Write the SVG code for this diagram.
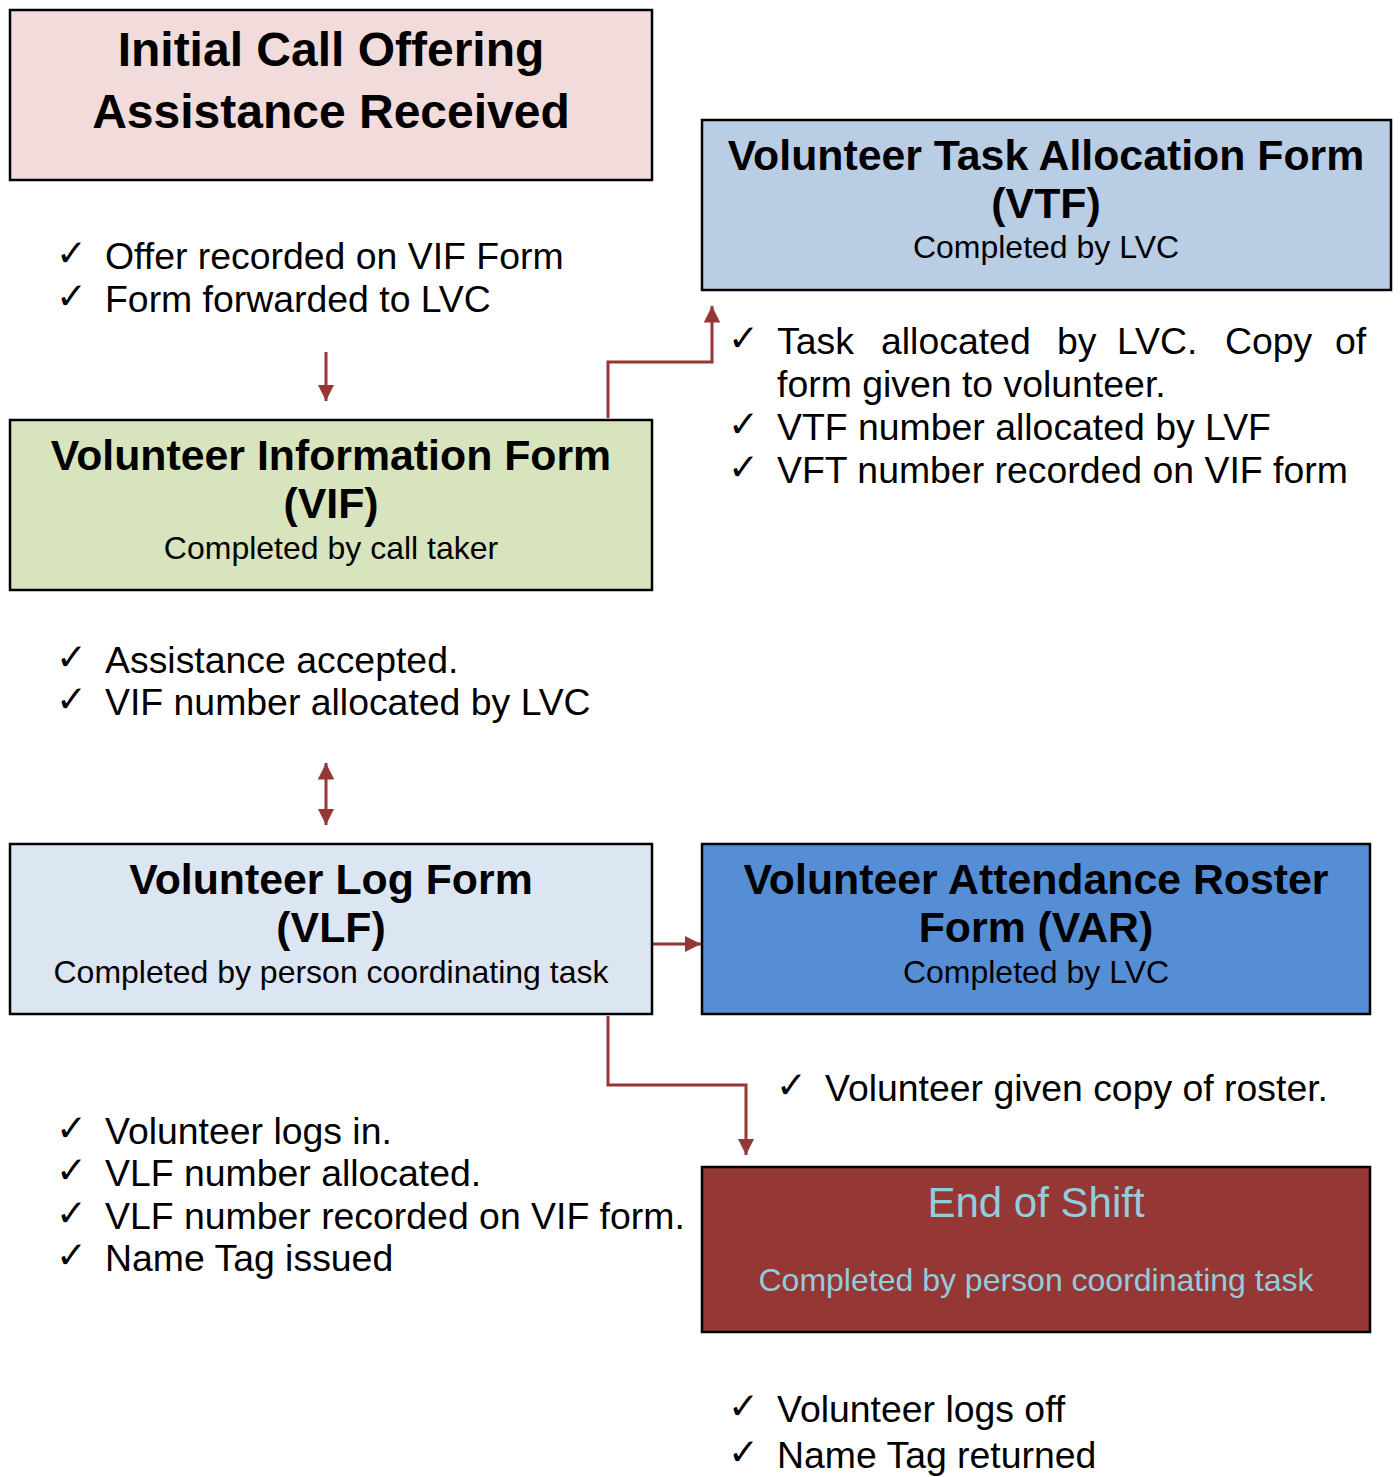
<svg xmlns="http://www.w3.org/2000/svg" width="1400" height="1477" viewBox="0 0 1400 1477">
<style>
.box{stroke:#000;stroke-width:2.5}
.t{font-family:"Liberation Sans",Arial,sans-serif;text-anchor:middle;fill:#000}
.h{font-weight:bold;font-size:42.8px}
.s{font-size:32px}
.b{font-family:"Liberation Sans",Arial,sans-serif;font-size:37.4px;fill:#000}
.ck{font-family:"DejaVu Sans",sans-serif;font-size:37px;fill:#000}
.c{fill:none;stroke:#953735;stroke-width:3}
</style>
<defs>
<marker id="ah" viewBox="0 0 10 10" refX="10" refY="5" markerWidth="5.5" markerHeight="5.5" orient="auto-start-reverse" markerUnits="strokeWidth">
<path d="M0,0 L10,5 L0,10 Z" fill="#953735"/>
</marker>
</defs>
<rect width="1400" height="1477" fill="#fff"/>
<g id="connectors">
<path class="c" d="M326,352 V401" marker-end="url(#ah)"/>
<path class="c" d="M608,418 V362 H712 V306" marker-end="url(#ah)"/>
<path class="c" d="M326,763 V825" marker-start="url(#ah)" marker-end="url(#ah)"/>
<path class="c" d="M653,944 H701" marker-end="url(#ah)"/>
<path class="c" d="M608,1016 V1085 H746 V1155" marker-end="url(#ah)"/>
</g>
<g id="initial">
<rect class="box" x="10" y="10" width="642" height="170" fill="#F2DCDB"/>
<text class="t" x="331" y="66" font-size="48" font-weight="bold">Initial Call Offering</text>
<text class="t" x="331" y="128" font-size="48" font-weight="bold">Assistance Received</text>
</g>
<g id="vtf">
<rect class="box" x="702" y="120" width="689" height="170" fill="#B9CDE5"/>
<text class="t h" x="1046" y="170">Volunteer Task Allocation Form</text>
<text class="t h" x="1046" y="218">(VTF)</text>
<text class="t s" x="1046" y="258">Completed by LVC</text>
</g>
<g id="vif">
<rect class="box" x="10" y="420" width="642" height="170" fill="#D7E4BD"/>
<text class="t h" x="331" y="470">Volunteer Information Form</text>
<text class="t h" x="331" y="518">(VIF)</text>
<text class="t s" x="331" y="559">Completed by call taker</text>
</g>
<g id="vlf">
<rect class="box" x="10" y="844" width="642" height="170" fill="#DCE6F2"/>
<text class="t h" x="331" y="894">Volunteer Log Form</text>
<text class="t h" x="331" y="942">(VLF)</text>
<text class="t s" x="331" y="983">Completed by person coordinating task</text>
</g>
<g id="var">
<rect class="box" x="702" y="844" width="668" height="170" fill="#558ED5"/>
<text class="t h" x="1036" y="894">Volunteer Attendance Roster</text>
<text class="t h" x="1036" y="942">Form (VAR)</text>
<text class="t s" x="1036" y="983">Completed by LVC</text>
</g>
<g id="end">
<rect class="box" x="702" y="1167" width="668" height="165" fill="#953735"/>
<text class="t" x="1036" y="1217" font-size="42" style="fill:#93CDDD">End of Shift</text>
<text class="t" x="1036" y="1291" font-size="32" style="fill:#93CDDD">Completed by person coordinating task</text>
</g>
<g id="notes1">
<text class="ck" x="56" y="266">✓</text><text class="b" x="105" y="269">Offer recorded on VIF Form</text>
<text class="ck" x="56" y="309">✓</text><text class="b" x="105" y="312">Form forwarded to LVC</text>
</g>
<g id="notes2">
<text class="ck" x="728" y="351">✓</text><text class="b" y="354"><tspan x="777">Task</tspan><tspan x="881">allocated</tspan><tspan x="1057">by</tspan><tspan x="1117">LVC.</tspan><tspan x="1225">Copy</tspan><tspan x="1335">of</tspan></text>
<text class="b" x="777" y="397">form given to volunteer.</text>
<text class="ck" x="728" y="437">✓</text><text class="b" x="777" y="440">VTF number allocated by LVF</text>
<text class="ck" x="728" y="480">✓</text><text class="b" x="777" y="483">VFT number recorded on VIF form</text>
</g>
<g id="notes3">
<text class="ck" x="56" y="670">✓</text><text class="b" x="105" y="673">Assistance accepted.</text>
<text class="ck" x="56" y="712">✓</text><text class="b" x="105" y="715">VIF number allocated by LVC</text>
</g>
<g id="notes4">
<text class="ck" x="776" y="1098">✓</text><text class="b" x="825" y="1101">Volunteer given copy of roster.</text>
</g>
<g id="notes5">
<text class="ck" x="56" y="1141">✓</text><text class="b" x="105" y="1144">Volunteer logs in.</text>
<text class="ck" x="56" y="1183">✓</text><text class="b" x="105" y="1186">VLF number allocated.</text>
<text class="ck" x="56" y="1226">✓</text><text class="b" x="105" y="1229">VLF number recorded on VIF form.</text>
<text class="ck" x="56" y="1268">✓</text><text class="b" x="105" y="1271">Name Tag issued</text>
</g>
<g id="notes6">
<text class="ck" x="728" y="1419">✓</text><text class="b" x="777" y="1422">Volunteer logs off</text>
<text class="ck" x="728" y="1465">✓</text><text class="b" x="777" y="1468">Name Tag returned</text>
</g>
</svg>
